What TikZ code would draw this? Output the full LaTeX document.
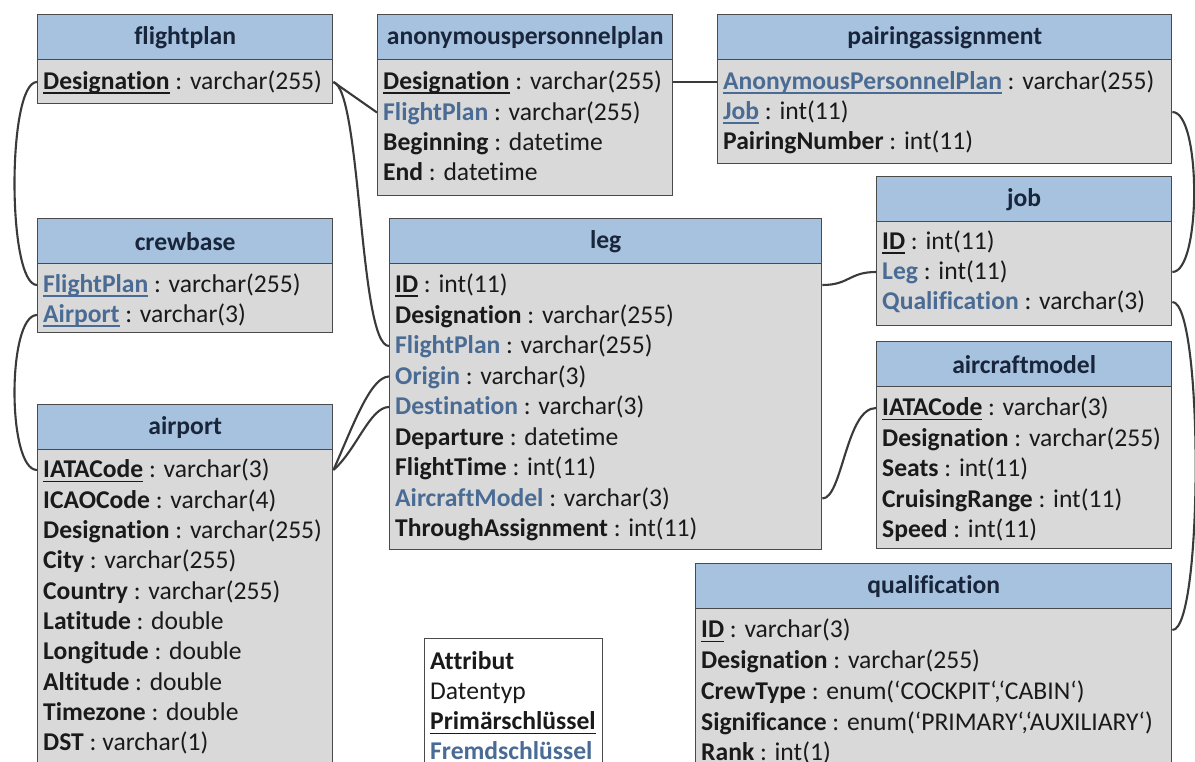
\documentclass[tikz,border=0pt]{standalone}
\usepackage{fontspec}
\setmainfont{Carlito}[Ligatures=NoCommon]

\definecolor{hdrfill}{HTML}{A7C2DF}
\definecolor{bodyfill}{HTML}{D9D9D9}
\definecolor{edgecol}{HTML}{4A4A4A}
\definecolor{titlecol}{HTML}{18253B}
\definecolor{textcol}{HTML}{1A1A1A}
\definecolor{fkblue}{HTML}{4A6B94}
\definecolor{linkcol}{HTML}{3A3A3A}

% underline drawn as a rule just below the baseline
\newcommand\uln[1]{\leavevmode\setbox0=\hbox{#1}\rlap{\vrule height -2.6pt depth 4.1pt width \wd0}\box0\relax}
% attribute formatting
\newcommand\attr[2]{\textbf{#1} : #2}
\newcommand\pk[2]{\uln{\textbf{#1}} : #2}
\newcommand\fk[2]{\textcolor{fkblue}{\textbf{#1}} : #2}
\newcommand\pkfk[2]{\textcolor{fkblue}{\uln{\textbf{#1}}} : #2}

% table: name, x-left, x-right, y-top, y-header-bottom, y-bottom, title
\newcommand\ertable[7]{%
  \node[hdr, minimum width={(#3-#2)*1pt}, minimum height={(#5-#4)*1pt}] (#1H) at (#2,#4) {#7};
  \node[bodybox, minimum width={(#3-#2)*1pt}, minimum height={(#6-#5)*1pt}] (#1B) at (#2,#5) {};
}
% attribute row: name, x, y, text
\newcommand\errow[4]{\node[rowtext] (#1) at (#2,#3) {#4};}

\begin{document}
\begin{tikzpicture}[x=1pt,y=-1pt,
  hdr/.style={draw=edgecol, fill=hdrfill, line width=1.4pt, anchor=north west,
    inner sep=0pt, text=titlecol, font=\fontsize{25.6}{30}\selectfont\bfseries},
  bodybox/.style={draw=edgecol, fill=bodyfill, line width=1.4pt, anchor=north west, inner sep=0pt},
  rowtext/.style={anchor=west, inner sep=0pt, text height=20pt, text depth=4.2pt,
    text=textcol, font=\fontsize{25.6}{30}\selectfont},
  legendbox/.style={draw=edgecol, fill=white, line width=1.4pt, anchor=north west, inner sep=0pt},
  link/.style={draw=linkcol, line width=2.1pt}]

\useasboundingbox (0,0) rectangle (1195,762);
\clip (0,0) rectangle (1195,762);
\fill[white] (0,0) rectangle (1195,762);

% ---------- flightplan ----------
\ertable{fp}{37}{332}{14}{59}{103}{flightplan}
\errow{fp1}{43}{82}{\pk{Designation}{varchar(255)}}

% ---------- anonymouspersonnelplan ----------
\ertable{ap}{377}{672}{14}{59}{195}{anonymouspersonnelplan}
\errow{ap1}{383}{82}{\pk{Designation}{varchar(255)}}
\errow{ap2}{383}{112.5}{\fk{FlightPlan}{varchar(255)}}
\errow{ap3}{383}{143}{\attr{Beginning}{datetime}}
\errow{ap4}{383}{173}{\attr{End}{datetime}}

% ---------- pairingassignment ----------
\ertable{pa}{717}{1171}{14}{59}{163}{pairingassignment}
\errow{pa1}{723}{82}{\pkfk{AnonymousPersonnelPlan}{varchar(255)}}
\errow{pa2}{723}{112}{\pkfk{Job}{int(11)}}
\errow{pa3}{723}{142}{\attr{PairingNumber}{int(11)}}

% ---------- job ----------
\ertable{job}{876}{1171}{176}{221}{325}{job}
\errow{job1}{882}{242}{\pk{ID}{int(11)}}
\errow{job2}{882}{272}{\fk{Leg}{int(11)}}
\errow{job3}{882}{302}{\fk{Qualification}{varchar(3)}}

% ---------- crewbase ----------
\ertable{cb}{37}{332}{218}{263}{332}{crewbase}
\errow{cb1}{43}{285}{\pkfk{FlightPlan}{varchar(255)}}
\errow{cb2}{43}{315}{\pkfk{Airport}{varchar(3)}}

% ---------- airport ----------
\ertable{apt}{37}{332}{404}{449}{800}{airport}
\errow{apt1}{43}{470}{\pk{IATACode}{varchar(3)}}
\errow{apt2}{43}{500.3}{\attr{ICAOCode}{varchar(4)}}
\errow{apt3}{43}{530.6}{\attr{Designation}{varchar(255)}}
\errow{apt4}{43}{560.9}{\attr{City}{varchar(255)}}
\errow{apt5}{43}{591.2}{\attr{Country}{varchar(255)}}
\errow{apt6}{43}{621.5}{\attr{Latitude}{double}}
\errow{apt7}{43}{651.8}{\attr{Longitude}{double}}
\errow{apt8}{43}{682.1}{\attr{Altitude}{double}}
\errow{apt9}{43}{712.4}{\attr{Timezone}{double}}
\errow{apt10}{43}{742.7}{\attr{DST}{varchar(1)}}

% ---------- leg ----------
\ertable{leg}{389}{821}{218}{263}{549}{leg}
\errow{leg1}{395}{285}{\pk{ID}{int(11)}}
\errow{leg2}{395}{315.5}{\attr{Designation}{varchar(255)}}
\errow{leg3}{395}{346}{\fk{FlightPlan}{varchar(255)}}
\errow{leg4}{395}{376.5}{\fk{Origin}{varchar(3)}}
\errow{leg5}{395}{407}{\fk{Destination}{varchar(3)}}
\errow{leg6}{395}{437.5}{\attr{Departure}{datetime}}
\errow{leg7}{395}{468}{\attr{FlightTime}{int(11)}}
\errow{leg8}{395}{498.5}{\fk{AircraftModel}{varchar(3)}}
\errow{leg9}{395}{529}{\attr{ThroughAssignment}{int(11)}}

% ---------- aircraftmodel ----------
\ertable{am}{876}{1171}{341}{386}{548}{aircraftmodel}
\errow{am1}{882}{408}{\pk{IATACode}{varchar(3)}}
\errow{am2}{882}{438.5}{\attr{Designation}{varchar(255)}}
\errow{am3}{882}{469}{\attr{Seats}{int(11)}}
\errow{am4}{882}{499.5}{\attr{CruisingRange}{int(11)}}
\errow{am5}{882}{530}{\attr{Speed}{int(11)}}

% ---------- qualification ----------
\ertable{q}{695}{1171}{563}{608}{800}{qualification}
\errow{q1}{701}{630}{\pk{ID}{varchar(3)}}
\errow{q2}{701}{661}{\attr{Designation}{varchar(255)}}
\errow{q3}{701}{692}{\attr{CrewType}{enum(‘COCKPIT‘,‘CABIN‘)}}
\errow{q4}{701}{722.5}{\attr{Significance}{enum(‘PRIMARY‘,‘AUXILIARY‘)}}
\errow{q5}{701}{753}{\attr{Rank}{int(1)}}

% ---------- legend ----------
\node[legendbox, minimum width=178pt, minimum height=160pt] (lg) at (424,638) {};
\errow{lg1}{430}{662}{\textbf{Attribut}}
\errow{lg2}{430}{692}{Datentyp}
\errow{lg3}{430}{722}{\uln{\textbf{Primärschlüssel}}}
\errow{lg4}{430}{752}{\textcolor{fkblue}{\textbf{Fremdschlüssel}}}

% ---------- relationships ----------
\draw[link] (fpB.west |- fp1.west) .. controls +(-30,0) and +(-30,0) .. (cbB.west |- cb1.west);
\draw[link] (fpB.east |- fp1.west) -- (apB.west |- ap2.west);
\draw[link] (fpB.east |- fp1.west) .. controls +(28,8) and +(-30,0) .. (legB.west |- leg3.west);
\draw[link] (apB.east |- ap1.west) -- (paB.west |- pa1.west);
\draw[link] (paB.east |- pa2.west) .. controls +(29,0) and +(29,0) .. (jobB.east |- job2.west);
\draw[link] (jobB.west |- job2.west) .. controls +(-27,0) and +(27,0) .. (legB.east |- leg1.west);
\draw[link] (jobB.east |- job3.west) .. controls +(31,0) and +(31,0) .. (qB.east |- q1.west);
\draw[link] (cbB.west |- cb2.west) .. controls +(-30,0) and +(-30,0) .. (aptB.west |- apt1.west);
\draw[link] (aptB.east |- apt1.west) .. controls +(18,-40) and +(-19,0) .. (legB.west |- leg4.west);
\draw[link] (aptB.east |- apt1.west) .. controls +(23,-20) and +(-19,0) .. (legB.west |- leg5.west);
\draw[link] (legB.east |- leg8.west) .. controls +(20,0) and +(-30,0) .. (amB.west |- am1.west);
\end{tikzpicture}
\end{document}
